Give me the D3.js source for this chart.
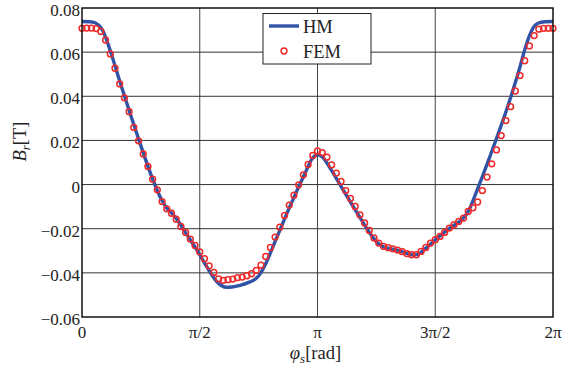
<!DOCTYPE html>
<html>
<head>
<meta charset="utf-8">
<script src="https://cdn.jsdelivr.net/npm/d3@7"></script>
<style>
  body { margin: 0; background: #fff; }
  text { font-family: "Liberation Serif", "DejaVu Serif", serif; fill: #222; }
</style>
</head>
<body>
<svg id="chart" width="579" height="366"></svg>
<script>
// HM curve: angle (in units of pi) and radial flux density [T]
const hmPhi = [0, 0.034, 0.055, 0.072, 0.089, 0.102, 0.119, 0.161, 0.204, 0.246,
  0.296, 0.338, 0.360, 0.381, 0.402, 0.445, 0.487, 0.529, 0.572, 0.590,
  0.611, 0.637, 0.671, 0.713, 0.739, 0.760, 0.781, 0.820, 0.883, 0.947,
  0.977, 1.002, 1.023, 1.053, 1.100, 1.163, 1.227, 1.257, 1.282, 1.325,
  1.367, 1.405, 1.427, 1.452, 1.503, 1.567, 1.609, 1.631, 1.648, 1.669,
  1.732, 1.817, 1.860, 1.881, 1.898, 1.915, 1.936, 1.966, 2.000]
const hmB = [0.0739, 0.0738, 0.0733, 0.0721, 0.0696, 0.0662, 0.0610, 0.0466, 0.0323, 0.0188,
  0.0036, -0.0069, -0.0107, -0.0129, -0.0156, -0.0227, -0.0295, -0.0371, -0.0439, -0.0456,
  -0.0465, -0.0464, -0.0457, -0.0441, -0.0426, -0.0399, -0.0356, -0.0258, -0.0099, 0.0051,
  0.0117, 0.0135, 0.0123, 0.0076, -0.0008, -0.0119, -0.0227, -0.0266, -0.0283, -0.0294,
  -0.0307, -0.0319, -0.0316, -0.0295, -0.0248, -0.0193, -0.0162, -0.0137, -0.0105, -0.0049,
  0.0127, 0.0384, 0.0534, 0.0614, 0.0669, 0.0709, 0.0731, 0.0738, 0.0739]

// FEM samples, 100 equal steps over one period
const femSteps = 100
const femB = [0.0708, 0.0709, 0.0709, 0.0707, 0.0694, 0.0655, 0.0592, 0.0527, 0.0456, 0.0393,
  0.0330, 0.0259, 0.0198, 0.0139, 0.0082, 0.0024, -0.0024, -0.0077, -0.0110, -0.0130,
  -0.0157, -0.0190, -0.0217, -0.0247, -0.0276, -0.0305, -0.0336, -0.0368, -0.0398, -0.0427,
  -0.0434, -0.0431, -0.0428, -0.0422, -0.0419, -0.0413, -0.0404, -0.0389, -0.0365, -0.0326,
  -0.0285, -0.0238, -0.0193, -0.0140, -0.0093, -0.0048, -0.0001, 0.0044, 0.0091, 0.0132,
  0.0152, 0.0145, 0.0124, 0.0089, 0.0052, 0.0014, -0.0027, -0.0063, -0.0099, -0.0137,
  -0.0174, -0.0208, -0.0242, -0.0265, -0.0280, -0.0286, -0.0291, -0.0297, -0.0304, -0.0313,
  -0.0318, -0.0318, -0.0303, -0.0285, -0.0265, -0.0250, -0.0235, -0.0217, -0.0197, -0.0182,
  -0.0167, -0.0152, -0.0122, -0.0105, -0.0079, -0.0027, 0.0034, 0.0094, 0.0157, 0.0222,
  0.0290, 0.0353, 0.0424, 0.0494, 0.0561, 0.0628, 0.0675, 0.0704, 0.0708, 0.0708,
  0.0708]

const xTicks = [0, 0.5, 1, 1.5, 2]
const xTickLabels = ['0', 'π/2', 'π', '3π/2', '2π']
const yTicks = [-0.06, -0.04, -0.02, 0, 0.02, 0.04, 0.06, 0.08]
const yTickLabels = ['−0.06', '−0.04', '−0.02', '0', '0.02', '0.04', '0.06', '0.08']

const margin = { top: 8, right: 26, bottom: 49, left: 82 }
const width = 579 - margin.left - margin.right
const height = 366 - margin.top - margin.bottom

const blue = '#3153a5'
const red = '#ee2a2a'

const x = d3.scaleLinear().domain([0, 2]).range([0, width])
const y = d3.scaleLinear().domain([-0.06, 0.08]).range([height, 0])

const svg = d3.select('#chart')
const g = svg.append('g').attr('transform', 'translate(' + margin.left + ',' + margin.top + ')')

// grid
g.selectAll('.vgrid').data(xTicks.slice(1, -1)).enter().append('line')
  .attr('x1', d => x(d)).attr('x2', d => x(d))
  .attr('y1', 0).attr('y2', height)
  .attr('stroke', '#444').attr('stroke-width', 1)
g.selectAll('.hgrid').data(yTicks.slice(1, -1)).enter().append('line')
  .attr('x1', 0).attr('x2', width)
  .attr('y1', d => y(d)).attr('y2', d => y(d))
  .attr('stroke', '#333').attr('stroke-width', 1)

// HM line
const hmData = hmPhi.map((p, i) => [p, hmB[i]])
const line = d3.line()
  .x(d => x(d[0]))
  .y(d => y(d[1]))
  .curve(d3.curveMonotoneX)
g.append('path').datum(hmData)
  .attr('d', line)
  .attr('fill', 'none')
  .attr('stroke', blue)
  .attr('stroke-width', 3.4)

// FEM markers
const femData = femB.map((b, k) => [2 * k / femSteps, b])
g.selectAll('.fem').data(femData).enter().append('circle')
  .attr('cx', d => x(d[0]))
  .attr('cy', d => y(d[1]))
  .attr('r', 2.9)
  .attr('fill', 'none')
  .attr('stroke', red)
  .attr('stroke-width', 1.5)

// frame
g.append('rect')
  .attr('width', width).attr('height', height)
  .attr('fill', 'none').attr('stroke', '#111').attr('stroke-width', 1.5)

// tick labels
g.selectAll('.xl').data(xTicks).enter().append('text')
  .attr('x', d => x(d)).attr('y', height + 21)
  .attr('text-anchor', 'middle')
  .style('font-size', '17px')
  .text((d, i) => xTickLabels[i])
g.selectAll('.yl').data(yTicks).enter().append('text')
  .attr('x', -2).attr('y', d => y(d) + 8)
  .attr('text-anchor', 'end')
  .style('font-size', '17px')
  .text((d, i) => yTickLabels[i])

// axis titles
const xt = g.append('text')
  .attr('x', width / 2 - 2).attr('y', height + 42)
  .attr('text-anchor', 'middle')
  .style('font-size', '18.5px')
xt.append('tspan').style('font-style', 'italic').text('φ')
xt.append('tspan').style('font-style', 'italic').style('font-size', '13px').attr('dy', 4).text('s')
xt.append('tspan').attr('dy', -4).text('[rad]')

const yt = g.append('text')
  .attr('transform', 'translate(' + (-56) + ',' + (height / 2 - 21) + ') rotate(-90)')
  .attr('text-anchor', 'middle')
  .style('font-size', '18.5px')
yt.append('tspan').style('font-style', 'italic').text('B')
yt.append('tspan').style('font-style', 'italic').style('font-size', '13px').attr('dy', 4).text('r')
yt.append('tspan').attr('dy', -4).text('[T]')

// legend
const lg = svg.append('g').attr('transform', 'translate(263,13.5)')
lg.append('rect').attr('width', 108).attr('height', 50.5)
  .attr('fill', '#fff').attr('stroke', '#222').attr('stroke-width', 1)
lg.append('line').attr('x1', 6).attr('x2', 36).attr('y1', 12.5).attr('y2', 12.5)
  .attr('stroke', blue).attr('stroke-width', 3.4)
lg.append('circle').attr('cx', 21).attr('cy', 37.5).attr('r', 2.9)
  .attr('fill', 'none').attr('stroke', red).attr('stroke-width', 1.5)
lg.append('text').attr('x', 40).attr('y', 19.5).style('font-size', '18.5px').text('HM')
lg.append('text').attr('x', 40).attr('y', 44.5).style('font-size', '18.5px').text('FEM')
</script>
</body>
</html>
